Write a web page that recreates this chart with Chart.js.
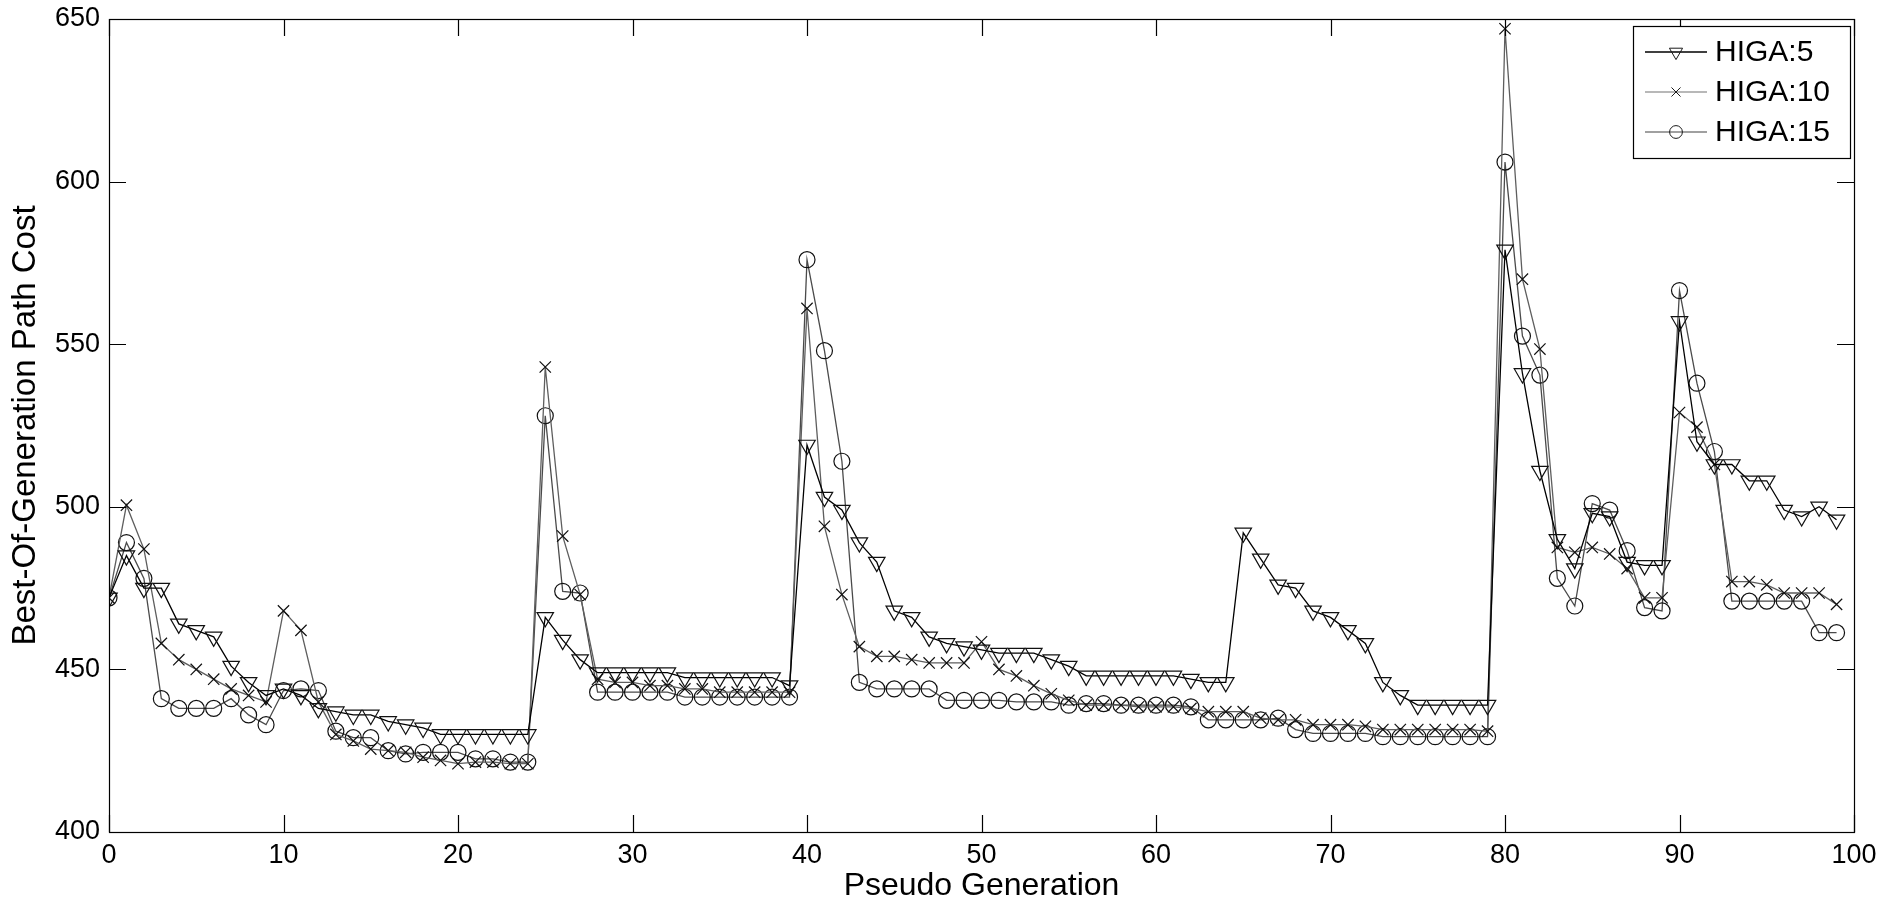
<!DOCTYPE html>
<html>
<head>
<meta charset="utf-8">
<title>Best-Of-Generation Path Cost</title>
<script src="https://cdn.jsdelivr.net/npm/chart.js@4.4.1/dist/chart.umd.min.js"></script>
<style>
    html, body { margin: 0; padding: 0; background: #fff; }
    #chart-wrap { width: 1904px; height: 910px; }
</style>
</head>
<body>
<div id="chart-wrap"><canvas id="chart-higa" width="1904" height="910"></canvas></div>
<script>
var generaciones = [
    0, 1, 2, 3, 4, 5, 6, 7, 8, 9, 10, 11, 12, 13, 14, 15, 16, 17, 18, 19,
    20, 21, 22, 23, 24, 25, 26, 27, 28, 29, 30, 31, 32, 33, 34, 35, 36, 37, 38, 39,
    40, 41, 42, 43, 44, 45, 46, 47, 48, 49, 50, 51, 52, 53, 54, 55, 56, 57, 58, 59,
    60, 61, 62, 63, 64, 65, 66, 67, 68, 69, 70, 71, 72, 73, 74, 75, 76, 77, 78, 79,
    80, 81, 82, 83, 84, 85, 86, 87, 88, 89, 90, 91, 92, 93, 94, 95, 96, 97, 98, 99
];

var higa5 = [
    472, 485, 475, 475, 464, 462, 460, 451, 446, 442,
    444, 442, 438, 437, 436, 436, 434, 433, 432, 430,
    430, 430, 430, 430, 430, 466, 459, 453, 449, 449,
    449, 449, 449, 447.5, 447.5, 447.5, 447.5, 447.5, 447.5, 445,
    519, 503, 499, 489, 483, 468, 466, 460, 458, 457,
    456, 455, 455, 455, 453, 451, 448, 448, 448, 448,
    448, 448, 447, 446, 446, 492, 484, 476, 475, 468,
    466, 462, 458, 446, 442, 439, 439, 439, 439, 439,
    579, 541, 511, 490, 481, 498, 497, 483, 482, 482,
    557, 520, 513, 513, 508, 508, 499, 497, 500, 496
];

var higa10 = [
    472, 500.5, 487, 458, 453, 450, 447, 444, 442, 440,
    468, 462, 440, 430, 428, 425.5, 425, 424.5, 423, 422,
    421, 421.5, 421.5, 421, 421, 543, 491, 473, 447, 446,
    446, 445, 445, 444, 444, 443, 443, 443, 443, 443,
    561, 494, 473, 457, 454, 454, 453, 452, 452, 452,
    458.5, 450, 448, 445, 442.5, 440.5, 439, 439, 439, 438.5,
    438.5, 438.5, 438, 437, 437, 437, 435, 434.5, 434.5, 433,
    433, 433, 432.5, 431.5, 431.5, 431.5, 431.5, 431.5, 431.5, 431,
    647, 570, 548.5, 487.5, 486, 487.5, 485.5, 481, 472, 472,
    529, 524.5, 513, 477, 477, 476, 473.5, 473.5, 473.5, 470
];

var higa15 = [
    472, 489, 478, 441, 438, 438, 438, 441, 436, 433,
    443.5, 444, 443.5, 431, 429, 429, 425, 424, 424.5, 424.5,
    424.5, 422.5, 422.5, 421.5, 421.5, 528, 474, 473.5, 443, 443,
    443, 443, 443, 441.5, 441.5, 441.5, 441.5, 441.5, 441.5, 441.5,
    576, 548, 514, 446, 444, 444, 444, 444, 440.5, 440.5,
    440.5, 440.5, 440, 440, 440, 439, 439.5, 439.5, 439, 439,
    439, 439, 438.5, 434.5, 434.5, 434.5, 434.5, 435, 431.5, 430.3,
    430.3, 430.3, 430.3, 429.3, 429.3, 429.3, 429.3, 429.3, 429.3, 429.3,
    606, 552.5, 540.5, 478, 469.5, 501, 499, 486.5, 469, 468,
    566.5, 538, 517, 471, 471, 471, 471, 471, 461.3, 461.3
];

var etiquetasSeries = ['HIGA:5', 'HIGA:10', 'HIGA:15'];
var ticksX = [0, 10, 20, 30, 40, 50, 60, 70, 80, 90, 100];
var ticksY = [400, 450, 500, 550, 600, 650];

var GraficaHiga = (function () {
    var obj = {};
    var chart = null;
    var fuente = "'Liberation Sans', Arial, Helvetica, sans-serif";

    obj.init = function () {
        var ctx = document.getElementById('chart-higa').getContext('2d');

        chart = new Chart(ctx, {
            type: 'line',
            data: {
                datasets: [
                    serie(etiquetasSeries[0], higa5, '#000000', 'triangle', 180, 9.5),
                    serie(etiquetasSeries[1], higa10, '#5e5e5e', 'crossRot', 0, 8),
                    serie(etiquetasSeries[2], higa15, '#4a4a4a', 'circle', 0, 8)
                ]
            },
            options: {
                responsive: false,
                devicePixelRatio: 1,
                animation: false,
                layout: { padding: { left: 0, top: 19, right: 50, bottom: 0 } },
                plugins: {
                    legend: { display: false },
                    tooltip: { enabled: false }
                },
                scales: {
                    x: {
                        type: 'linear',
                        min: 0,
                        max: 100,
                        grid: { display: false, drawTicks: false },
                        border: { display: false },
                        afterBuildTicks: function (s) {
                            s.ticks = ticksX.map(function (v) { return { value: v }; });
                        },
                        afterFit: function (s) {
                            s.height = 78;
                            s.paddingLeft = 0;
                            s.paddingRight = 0;
                        },
                        ticks: {
                            color: '#000',
                            padding: 7,
                            maxRotation: 0,
                            font: { family: fuente, size: 27 }
                        },
                        title: {
                            display: true,
                            text: 'Pseudo Generation',
                            color: '#000',
                            padding: { top: 0, bottom: 5 },
                            font: { family: fuente, size: 32 }
                        }
                    },
                    y: {
                        min: 400,
                        max: 650,
                        grid: { display: false, drawTicks: false },
                        border: { display: false },
                        afterBuildTicks: function (s) {
                            s.ticks = ticksY.map(function (v) { return { value: v }; });
                        },
                        afterFit: function (s) {
                            s.width = 109;
                            s.paddingTop = 0;
                            s.paddingBottom = 0;
                        },
                        ticks: {
                            color: '#000',
                            padding: 9,
                            font: { family: fuente, size: 27 }
                        },
                        title: {
                            display: true,
                            text: 'Best-Of-Generation Path Cost',
                            color: '#000',
                            padding: { top: 6, bottom: 0 },
                            font: { family: fuente, size: 33 }
                        }
                    }
                }
            },
            plugins: [marcoPlugin, leyendaPlugin]
        });
    };

    function serie(label, valores, color, estilo, rotacion, radio) {
        return {
            label: label,
            data: valores.map(function (v, i) { return { x: generaciones[i], y: v }; }),
            borderColor: color,
            borderWidth: 1.3,
            backgroundColor: 'rgba(0,0,0,0)',
            pointStyle: estilo,
            pointRotation: rotacion,
            pointRadius: radio,
            pointBorderColor: '#111',
            pointBackgroundColor: 'rgba(0,0,0,0)',
            pointBorderWidth: 1.2,
            tension: 0,
            fill: false
        };
    }

    // caja del area y marcas hacia adentro (estilo matlab)
    var marcoPlugin = {
        id: 'marco',
        afterDatasetsDraw: function (c) {
            var a = c.chartArea;
            var g = c.ctx;
            var largo = 17;
            g.save();
            g.strokeStyle = '#000';
            g.lineWidth = 1.2;
            g.strokeRect(a.left + 0.5, a.top + 0.5, a.right - a.left, a.bottom - a.top);
            g.beginPath();
            ticksX.forEach(function (v) {
                var px = Math.round(c.scales.x.getPixelForValue(v)) + 0.5;
                g.moveTo(px, a.bottom);
                g.lineTo(px, a.bottom - largo);
                g.moveTo(px, a.top);
                g.lineTo(px, a.top + largo);
            });
            ticksY.forEach(function (v) {
                var py = Math.round(c.scales.y.getPixelForValue(v)) + 0.5;
                g.moveTo(a.left, py);
                g.lineTo(a.left + largo, py);
                g.moveTo(a.right, py);
                g.lineTo(a.right - largo, py);
            });
            g.stroke();
            g.restore();
        }
    };

    var leyendaPlugin = {
        id: 'leyendaInterna',
        afterDraw: function (c) {
            var g = c.ctx;
            var caja = { x: 1633, y: 26, w: 217, h: 132 };
            var colores = ['#000', '#a0a0a0', '#808080'];
            g.save();
            g.fillStyle = '#fff';
            g.fillRect(caja.x, caja.y, caja.w, caja.h);
            g.strokeStyle = '#000';
            g.lineWidth = 1.2;
            g.strokeRect(caja.x + 0.5, caja.y + 0.5, caja.w, caja.h);

            c.data.datasets.forEach(function (ds, i) {
                var cy = caja.y + 26 + i * 40;
                g.strokeStyle = colores[i];
                g.lineWidth = 1.5;
                g.beginPath();
                g.moveTo(caja.x + 12, cy);
                g.lineTo(caja.x + 74, cy);
                g.stroke();

                g.strokeStyle = '#1a1a1a';
                g.fillStyle = 'rgba(0,0,0,0)';
                g.lineWidth = 1;
                Chart.helpers.drawPoint(g, {
                    pointStyle: ds.pointStyle,
                    rotation: ds.pointRotation,
                    radius: ds.pointRadius * 0.8,
                    borderWidth: 1
                }, caja.x + 43, cy);

                g.fillStyle = '#000';
                g.font = '30px ' + fuente;
                g.textBaseline = 'middle';
                g.fillText(ds.label, caja.x + 82, cy + 1);
            });
            g.restore();
        }
    };

    return obj;
}());

GraficaHiga.init();
</script>
</body>
</html>
